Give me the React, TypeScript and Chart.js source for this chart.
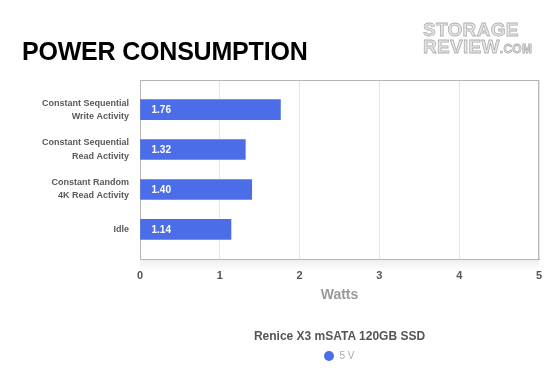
import React, { useEffect, useRef } from 'react';
import { Chart, registerables } from 'chart.js';

Chart.register(...registerables);

const chartTitle = 'POWER CONSUMPTION';
const categories: string[][] = [
  ['Constant Sequential', 'Write Activity'],
  ['Constant Sequential', 'Read Activity'],
  ['Constant Random', '4K Read Activity'],
  ['Idle'],
];
const values5V = [1.76, 1.32, 1.4, 1.14];
const seriesName = '5 V';
const legendTitle = 'Renice X3 mSATA 120GB SSD';
const axisTitle = 'Watts';
const xMin = 0;
const xMax = 5;

const FONT = '"Liberation Sans", Arial, Helvetica, sans-serif';
const BAR_COLOR = '#4b6ee8';

const plotFrame = {
  id: 'plotFrame',
  beforeDatasetsDraw(chart: any) {
    const { ctx, chartArea } = chart;
    const { left, top, right, bottom } = chartArea;
    ctx.save();
    const g = ctx.createLinearGradient(0, bottom, 0, bottom + 12);
    g.addColorStop(0, 'rgba(0,0,0,0.07)');
    g.addColorStop(1, 'rgba(0,0,0,0)');
    ctx.fillStyle = g;
    ctx.fillRect(left, bottom, right - left, 12);
    ctx.strokeStyle = '#b5b5b5';
    ctx.lineWidth = 1;
    ctx.strokeRect(Math.round(left) + 0.5, Math.round(top) + 0.5, Math.round(right - left) - 1, Math.round(bottom - top));
    ctx.restore();
  },
};

const barLabels = {
  id: 'barLabels',
  afterDatasetsDraw(chart: any) {
    const { ctx } = chart;
    const meta = chart.getDatasetMeta(0);
    ctx.save();
    ctx.fillStyle = '#ffffff';
    ctx.font = `bold 10px ${FONT}`;
    ctx.textAlign = 'left';
    ctx.textBaseline = 'middle';
    meta.data.forEach((el: any, i: number) => {
      const p = el.getProps(['y', 'base'], true);
      ctx.fillText(values5V[i].toFixed(2), p.base + 11, p.y + 0.5);
    });
    ctx.restore();
  },
};

export default function App() {
  const ref = useRef<HTMLCanvasElement>(null);
  useEffect(() => {
    if (!ref.current) return;
    Chart.defaults.font.family = FONT;
    const chart = new Chart(ref.current, {
      type: 'bar',
      data: {
        datasets: [
          {
            label: seriesName,
            data: values5V.map((v, i) => ({ x: v, y: i })),
            backgroundColor: BAR_COLOR,
            borderWidth: 0,
            barThickness: 20,
          },
        ],
      },
      options: {
        indexAxis: 'y',
        responsive: false,
        animation: false,
        layout: { padding: { top: 80, right: 21, bottom: 71, left: 0 } },
        plugins: {
          legend: { display: false },
          title: { display: false },
          tooltip: { enabled: false },
        },
        scales: {
          x: {
            type: 'linear',
            position: 'bottom',
            min: xMin,
            max: xMax,
            ticks: { stepSize: 1, color: '#555', font: { size: 11, weight: 'bold' }, padding: 10 },
            grid: { color: '#e6e6e6', drawTicks: false },
            border: { display: true, color: '#b5b5b5' },
            title: {
              display: true,
              text: axisTitle,
              color: '#999',
              font: { size: 14, weight: 'bold' },
              padding: { top: 0, bottom: 5 },
            },
            afterFit(scale: any) {
              scale.height = 50;
            },
          },
          y: {
            type: 'linear',
            reverse: true,
            offset: false,
            min: -0.74,
            max: categories.length - 1 + 0.74,
            afterBuildTicks(scale: any) {
              scale.ticks = categories.map((_, i) => ({ value: i }));
            },
            ticks: {
              autoSkip: false,
              color: '#5a5a5a',
              font: { size: 9, weight: 'bold', lineHeight: 1.45 },
              padding: 11,
              callback: (v: any) => categories[Number(v)] ?? '',
            },
            grid: { display: false, drawTicks: false },
            border: { display: true, color: '#b5b5b5' },
            afterFit(scale: any) {
              scale.width = 140;
            },
          },
        },
      },
      plugins: [plotFrame, barLabels],
    } as any);
    return () => chart.destroy();
  }, []);

  return (
    <div style={{ position: 'fixed', left: 0, top: 0, width: 560, height: 380, background: '#fff', fontFamily: FONT, overflow: 'hidden' }}>
      <canvas ref={ref} width={560} height={380} style={{ position: 'absolute', left: 0, top: 0, width: 560, height: 380 }} />
      <div style={{ position: 'absolute', left: 22, top: 39, fontSize: 25, lineHeight: '25px', fontWeight: 'bold', color: '#000', letterSpacing: '-0.2px', whiteSpace: 'nowrap' }}>
        {chartTitle}
      </div>
      <div style={{ position: 'absolute', left: 423, top: 21, color: '#e6e6e6', WebkitTextStroke: '0.8px #b0b0b0', fontWeight: 'bold', fontFamily: '"Liberation Sans Narrow", "Arial Narrow", ' + FONT, whiteSpace: 'nowrap', letterSpacing: '0.3px' }}>
        <div style={{ fontSize: 19, lineHeight: '17px' }}>STORAGE</div>
        <div style={{ fontSize: 19, lineHeight: '17px' }}>
          REVIEW<span style={{ fontSize: 12 }}>.COM</span>
        </div>
      </div>
      <div style={{ position: 'absolute', left: 140, width: 399, top: 328, textAlign: 'center', fontSize: 12, lineHeight: '16px', fontWeight: 'bold', color: '#555', whiteSpace: 'nowrap' }}>
        {legendTitle}
      </div>
      <div style={{ position: 'absolute', left: 140, width: 399, top: 350, display: 'flex', justifyContent: 'center', alignItems: 'center', fontSize: 10, lineHeight: '12px', color: '#aaa' }}>
        <span style={{ display: 'inline-block', width: 10, height: 10, borderRadius: 5, background: BAR_COLOR, marginRight: 5 }} />
        <span>{seriesName}</span>
      </div>
    </div>
  );
}
